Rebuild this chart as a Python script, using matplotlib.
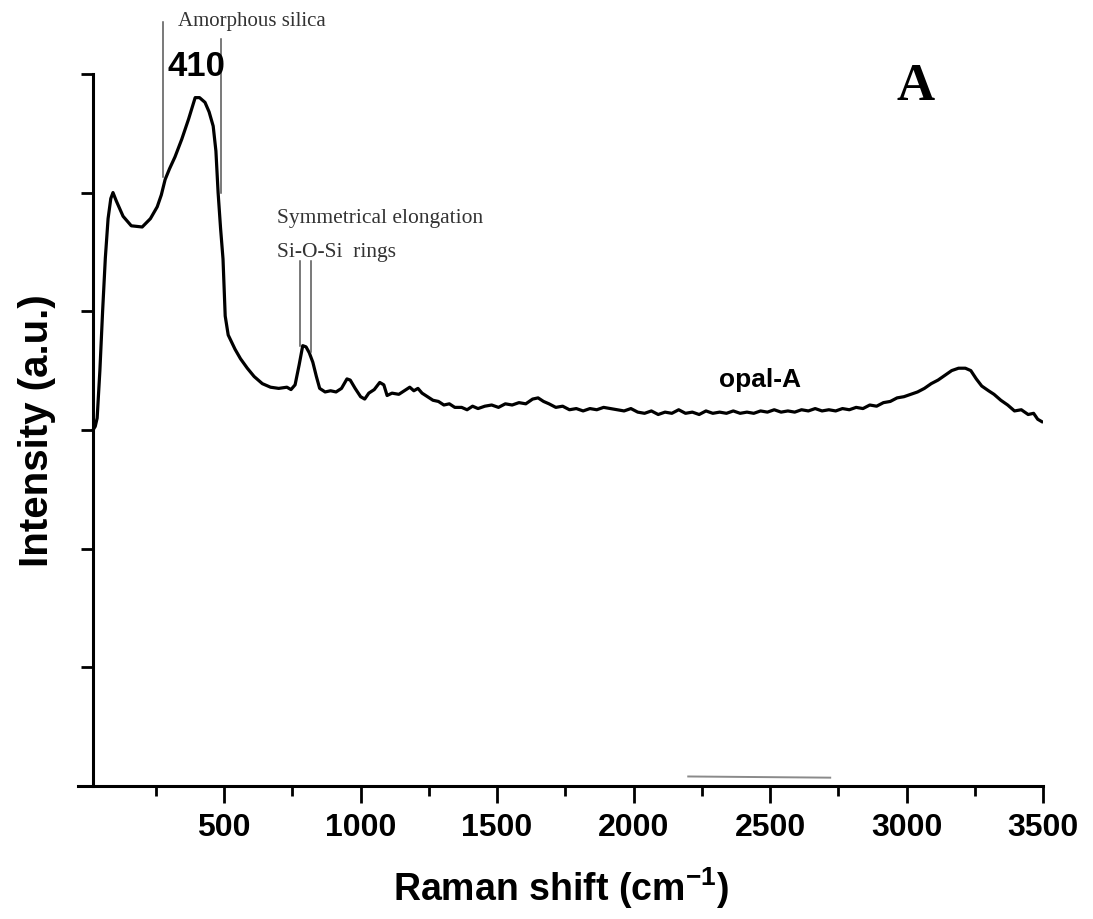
import matplotlib
matplotlib.use("Agg")
import matplotlib.pyplot as plt

plt.rcParams['font.family'] = ['Liberation Sans', 'DejaVu Sans']
plt.rcParams['mathtext.fontset'] = 'custom'
plt.rcParams['mathtext.rm'] = 'Liberation Sans:bold'
plt.rcParams['mathtext.default'] = 'rm'

# Raman spectrum of opal-A
shift = [20, 28, 35, 45, 55, 65, 75, 85, 93, 105, 130, 160, 200, 230, 255, 270, 284,
         300, 320, 345, 370, 394, 410, 430, 445, 460, 470, 478, 487, 496, 504, 515,
         540, 560, 585, 610, 640, 670, 700, 730, 745, 760, 775, 788, 800, 812, 825,
         838, 850, 870, 890, 910, 930, 950, 962, 980, 1000, 1015, 1030, 1050, 1070,
         1085, 1097, 1115, 1140, 1160, 1180, 1195, 1210, 1225, 1245, 1265, 1285, 1305,
         1325, 1345, 1370, 1390, 1410, 1430, 1455, 1480, 1505, 1530, 1555, 1580, 1605,
         1630, 1650, 1670, 1690, 1715, 1740, 1765, 1790, 1815, 1840, 1865, 1890, 1915,
         1940, 1965, 1990, 2015, 2040, 2065, 2090, 2115, 2140, 2165, 2190, 2215, 2240,
         2265, 2290, 2315, 2340, 2365, 2390, 2415, 2440, 2465, 2490, 2515, 2540, 2565,
         2590, 2615, 2640, 2665, 2690, 2715, 2740, 2765, 2790, 2815, 2840, 2865, 2890,
         2915, 2940, 2965, 2990, 3015, 3040, 3065, 3090, 3115, 3140, 3165, 3190, 3215,
         3235, 3255, 3275, 3300, 3320, 3345, 3370, 3395, 3420, 3445, 3465, 3480, 3495]
intensity = [3.00, 3.03, 3.10, 3.50, 4.00, 4.45, 4.78, 4.95, 5.00, 4.93, 4.80, 4.72, 4.71,
             4.78, 4.88, 4.98, 5.11, 5.20, 5.30, 5.45, 5.62, 5.80, 5.80, 5.76, 5.68, 5.56,
             5.35, 5.00, 4.70, 4.44, 3.96, 3.80, 3.68, 3.60, 3.52, 3.45, 3.39, 3.36, 3.35,
             3.36, 3.34, 3.38, 3.55, 3.71, 3.70, 3.65, 3.57, 3.45, 3.35, 3.32, 3.33, 3.32,
             3.35, 3.43, 3.42, 3.35, 3.28, 3.26, 3.31, 3.34, 3.40, 3.38, 3.29, 3.31, 3.30,
             3.33, 3.36, 3.33, 3.35, 3.31, 3.28, 3.25, 3.24, 3.21, 3.22, 3.19, 3.19, 3.17,
             3.20, 3.18, 3.20, 3.21, 3.19, 3.22, 3.21, 3.23, 3.22, 3.26, 3.27, 3.24, 3.22,
             3.19, 3.20, 3.17, 3.18, 3.16, 3.18, 3.17, 3.19, 3.18, 3.17, 3.16, 3.18, 3.15,
             3.14, 3.16, 3.13, 3.15, 3.14, 3.17, 3.14, 3.15, 3.13, 3.16, 3.14, 3.15, 3.14,
             3.16, 3.14, 3.15, 3.14, 3.16, 3.15, 3.17, 3.15, 3.16, 3.15, 3.17, 3.16, 3.18,
             3.16, 3.17, 3.16, 3.18, 3.17, 3.19, 3.18, 3.21, 3.20, 3.23, 3.24, 3.27, 3.28,
             3.30, 3.32, 3.35, 3.39, 3.42, 3.46, 3.50, 3.52, 3.52, 3.50, 3.43, 3.37, 3.33,
             3.30, 3.25, 3.21, 3.16, 3.17, 3.13, 3.14, 3.09, 3.07]

xticks_major = [500, 1000, 1500, 2000, 2500, 3000, 3500]
xticks_minor = [250, 750, 1250, 1750, 2250, 2750, 3250]
yticks = [0, 1, 2, 3, 4, 5, 6]

fig = plt.figure(figsize=(10.93, 9.2), dpi=100)
ax = fig.add_axes([0.0714, 0.1446, 0.883, 0.774])

ax.plot(shift, intensity, color='black', lw=2.3)

ax.set_xlim(-35, 3500)
ax.set_ylim(0, 6)
ax.spines['top'].set_visible(False)
ax.spines['right'].set_visible(False)
ax.spines['left'].set_position(('data', 20))
for s in ['left', 'bottom']:
    ax.spines[s].set_linewidth(2.2)

ax.set_xticks(xticks_major)
ax.set_xticks(xticks_minor, minor=True)
ax.set_yticks(yticks)
ax.set_yticklabels([])
ax.tick_params(axis='x', which='major', length=12, width=2, direction='out', pad=7,
               labelsize=23)
ax.tick_params(axis='x', which='minor', length=7, width=2, direction='out')
ax.tick_params(axis='y', which='major', length=9, width=2, direction='out')
for lab in ax.get_xticklabels():
    lab.set_fontweight('bold')

ax.set_xlabel('Raman shift (cm$^{-1}$)', fontsize=27, fontweight='bold', labelpad=16)
ax.set_ylabel('Intensity (a.u.)', fontsize=29, fontweight='bold', labelpad=14)

# annotation lines
ax.plot([277, 277], [5.13, 6.44], color='#555555', lw=1.1, clip_on=False)
ax.plot([490, 490], [5.0, 6.29], color='#555555', lw=1.1, clip_on=False)
ax.plot([778, 778], [3.71, 4.42], color='#555555', lw=1.1)
ax.plot([818, 818], [3.66, 4.42], color='#555555', lw=1.1)
ax.plot([2200, 2720], [0.08, 0.07], color='#8a8a8a', lw=1.4)

ax.text(331, 6.45, 'Amorphous silica', family=['Liberation Serif'], fontsize=15,
        color='#333333', va='center', ha='left', clip_on=False)
ax.text(397, 6.07, '410', family=['Liberation Sans'], fontsize=25, fontweight='bold',
        ha='center', va='center', clip_on=False)
ax.text(694, 4.79, 'Symmetrical elongation', family=['Liberation Serif'], fontsize=15.5,
        color='#333333', va='center', ha='left')
ax.text(694, 4.50, 'Si-O-Si  rings', family=['Liberation Serif'], fontsize=15.5,
        color='#333333', va='center', ha='left')
ax.text(2463, 3.43, 'opal-A', family=['Liberation Sans'], fontsize=19, fontweight='bold',
        ha='center', va='center')
ax.text(3031, 5.90, 'A', family=['Liberation Serif'], fontsize=38, fontweight='bold',
        ha='center', va='center')

fig.savefig('out.png', dpi=100)
